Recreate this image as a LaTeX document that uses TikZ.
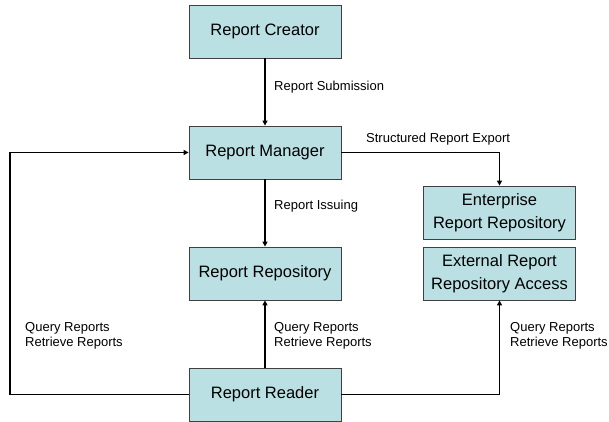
\documentclass[tikz,border=0pt]{standalone}
\usepackage{fontspec}
\setmainfont{Liberation Sans}
\usepackage{tikz}
\usetikzlibrary{arrows.meta}

\definecolor{boxfill}{RGB}{186,224,227}
\definecolor{boxline}{RGB}{64,64,64}

\tikzset{
    unit/.style={draw=boxline, line width=0.8pt, fill=boxfill, minimum width=152pt, minimum height=53pt,
        inner sep=1pt, align=center, font=\fontsize{16.5}{23}\selectfont},
    flow/.style={line width=1.5pt, -{Triangle[length=5pt,width=5pt]}},
    tag/.style={anchor=west, align=left, inner sep=0pt, font=\fontsize{13}{15}\selectfont}
}

\begin{document}
\begin{tikzpicture}[x=1pt, y=-1pt]
        \useasboundingbox (0,0) rectangle (609,421);

        % boxes
        \node [unit] (creator) at (265,31.5) {Report Creator};
        \node [unit] (manager) at (265,152.5) {Report Manager};
        \node [unit] (repo) at (265,273.5) {Report Repository};
        \node [unit] (reader) at (265,394.5) {Report Reader};
        \node [unit] (enterprise) at (499.5,212.5) {Enterprise\\Report Repository};
        \node [unit] (external) at (499.5,273.5) {External Report\\Repository Access};

        % connectors
        \draw [flow] (creator) -- (manager);
        \draw [flow] (manager) -- (repo);
        \draw [flow] (reader) -- (repo);
        \draw [flow] (manager.east) -| (enterprise.north);
        \draw [flow] (reader.east) -| (external.south);
        \coordinate (loop) at (10,394.5);
        \draw [flow] (reader.west) -- (loop) |- (manager.west);

        % labels
        \node [tag] (submit) at (274,87) {Report Submission};
        \node [tag] (export) at (366,139) {Structured Report Export};
        \node [tag] (issue) at (274,206) {Report Issuing};
        \node [tag] (qleft) at (25,336) {Query Reports\\Retrieve Reports};
        \node [tag] (qmid) at (274,336) {Query Reports\\Retrieve Reports};
        \node [tag] (qright) at (510,336) {Query Reports\\Retrieve Reports};
    \end{tikzpicture}
\end{document}
